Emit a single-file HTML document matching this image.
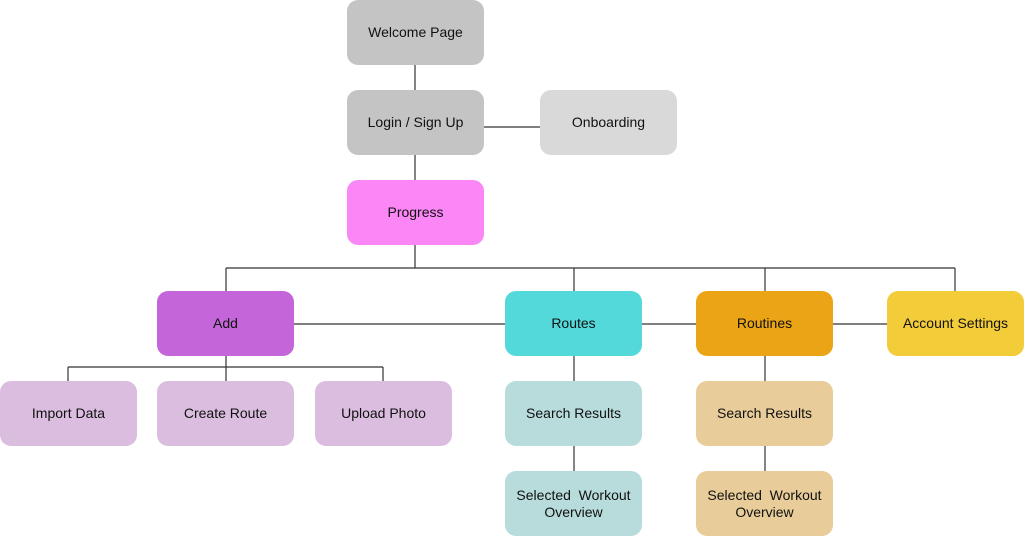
<!DOCTYPE html>
<html><head><style>
body{margin:0;width:1024px;height:537px;background:#fff;position:relative;overflow:hidden;font-family:"Liberation Sans",Arial,sans-serif;}
.n{position:absolute;width:137px;height:65px;border-radius:11px;display:flex;align-items:center;justify-content:center;text-align:center;font-size:14px;color:#111;line-height:17px;}
svg{position:absolute;left:0;top:0}
</style></head><body>
<svg width="1024" height="537"><g stroke="#333" stroke-width="1.2" fill="none">
<line x1="415" y1="65" x2="415" y2="90"/>
<line x1="484" y1="127" x2="540" y2="127"/>
<line x1="415" y1="155" x2="415" y2="180"/>
<line x1="415" y1="245" x2="415" y2="268"/>
<line x1="226" y1="268" x2="955" y2="268"/>
<line x1="226" y1="268" x2="226" y2="291"/>
<line x1="574" y1="268" x2="574" y2="291"/>
<line x1="765" y1="268" x2="765" y2="291"/>
<line x1="955" y1="268" x2="955" y2="291"/>
<line x1="294" y1="324" x2="887" y2="324"/>
<line x1="226" y1="356" x2="226" y2="381"/>
<line x1="68" y1="367" x2="383" y2="367"/>
<line x1="68" y1="367" x2="68" y2="381"/>
<line x1="383" y1="367" x2="383" y2="381"/>
<line x1="574" y1="356" x2="574" y2="381"/>
<line x1="574" y1="446" x2="574" y2="471"/>
<line x1="765" y1="356" x2="765" y2="381"/>
<line x1="765" y1="446" x2="765" y2="471"/>
</g></svg>
<div class="n" style="left:347px;top:0;background:#c4c4c4">Welcome Page</div>
<div class="n" style="left:347px;top:90px;background:#c4c4c4">Login / Sign Up</div>
<div class="n" style="left:540px;top:90px;background:#d9d9d9">Onboarding</div>
<div class="n" style="left:347px;top:180px;background:#fb87f6">Progress</div>
<div class="n" style="left:157px;top:291px;background:#c466da">Add</div>
<div class="n" style="left:505px;top:291px;background:#54d9da">Routes</div>
<div class="n" style="left:696px;top:291px;background:#eca417">Routines</div>
<div class="n" style="left:887px;top:291px;background:#f3cc3a">Account Settings</div>
<div class="n" style="left:0;top:381px;background:#dbbde0">Import Data</div>
<div class="n" style="left:157px;top:381px;background:#dbbde0">Create Route</div>
<div class="n" style="left:315px;top:381px;background:#dbbde0">Upload Photo</div>
<div class="n" style="left:505px;top:381px;background:#b8dcdb">Search Results</div>
<div class="n" style="left:696px;top:381px;background:#e8cd9a">Search Results</div>
<div class="n" style="left:505px;top:471px;background:#b8dcdb">Selected&nbsp; Workout<br>Overview</div>
<div class="n" style="left:696px;top:471px;background:#e8cd9a">Selected&nbsp; Workout<br>Overview</div>
</body></html>
